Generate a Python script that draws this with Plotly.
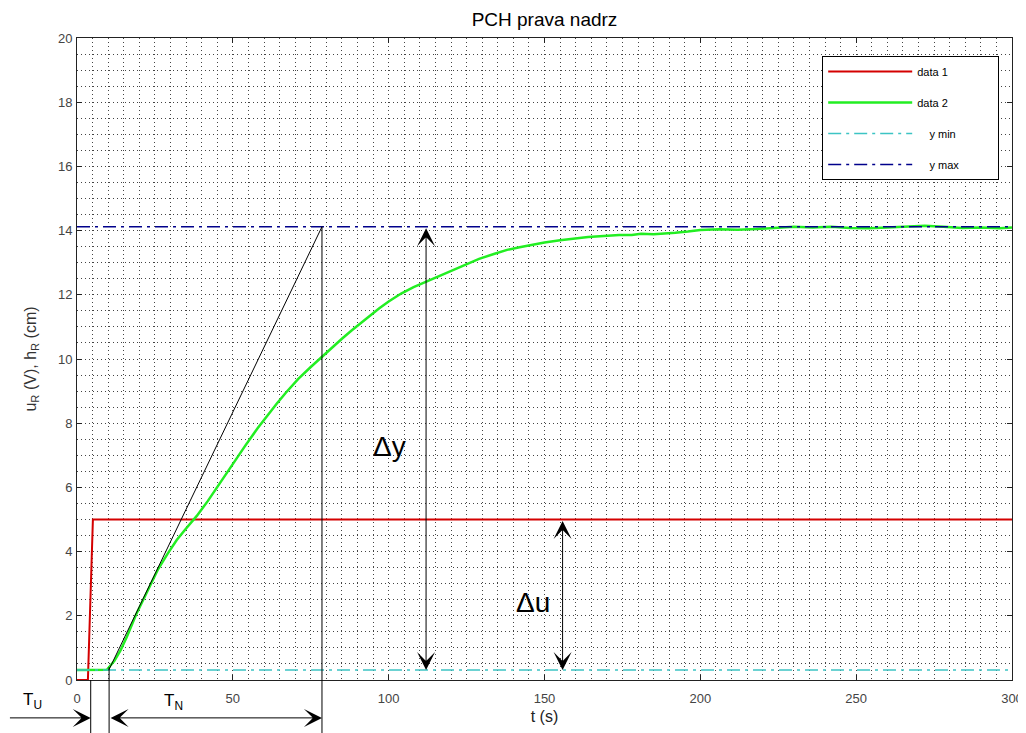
import plotly.graph_objects as go

# ---------------- data ----------------
title_text = "PCH prava nadrz"
x_ticks = [0, 50, 100, 150, 200, 250, 300]
y_ticks = [0, 2, 4, 6, 8, 10, 12, 14, 16, 18, 20]

# data 1: input step u_R
u_t = [0, 3.5, 5.1, 300]
u_v = [0, 0, 5.0, 5.0]

# data 2: level response h_R
h_t = [0, 5, 9.6, 12, 14, 16, 19, 22, 26, 29, 32, 35, 38.5, 42, 45, 48, 51, 54, 58, 61,
       64, 67, 71, 75, 78.6, 82, 85, 88, 91, 94, 97, 100, 104, 108, 112, 116, 121, 125,
       129, 134, 138, 142, 146, 150, 155, 159, 164, 169, 174, 178, 181, 185, 189, 192,
       196, 200, 206, 212, 218, 224, 230, 236, 242, 248, 254, 260, 266, 272, 278, 284,
       290, 296, 300]
h_v = [0.31, 0.31, 0.32, 0.6, 0.93, 1.35, 2.05, 2.65, 3.45, 3.92, 4.36, 4.72, 5.12, 5.58,
       6.02, 6.45, 6.88, 7.3, 7.85, 8.23, 8.6, 8.95, 9.38, 9.75, 10.07, 10.38, 10.63, 10.88,
       11.12, 11.36, 11.58, 11.79, 12.04, 12.24, 12.41, 12.58, 12.78, 12.95, 13.12, 13.28,
       13.4, 13.48, 13.56, 13.63, 13.7, 13.75, 13.8, 13.83, 13.86, 13.86, 13.9, 13.89,
       13.91, 13.93, 13.97, 14.02, 14.04, 14.03, 14.05, 14.09, 14.12, 14.1, 14.12, 14.08,
       14.07, 14.1, 14.13, 14.15, 14.12, 14.08, 14.1, 14.07, 14.1]

y_min = 0.31
y_max = 14.12
lim_t = [0, 300]

# tangent construction
tan_t = [10.2, 78.6]
tan_v = [0.31, 14.12]
t_u = 4.4          # end of dead time T_U
t_n_start = 10.3   # start of T_N
t_n_end = 78.6     # end of T_N
dy_t = 112         # position of delta-y arrow
du_t = 155.8       # position of delta-u arrow

X_RANGE = [0, 300]
Y_RANGE = [0, 20]

# ---------------- figure ----------------
fig = go.Figure()

NB = "\u00a0"
fig.add_trace(go.Scatter(x=u_t, y=u_v, mode="lines", name="data 1",
                         line=dict(color="#d40000", width=2), legendgroup="a"))
fig.add_trace(go.Scatter(x=h_t, y=h_v, mode="lines", name="data 2",
                         line=dict(color="#22ee22", width=2.5), legendgroup="b"))
fig.add_trace(go.Scatter(x=lim_t, y=[y_min, y_min], mode="lines",
                         name=NB * 4 + "y min" + NB * 12,
                         line=dict(color="#3cc4c4", width=1.5, dash="13px,5px,3px,5px"),
                         legendgroup="c"))
fig.add_trace(go.Scatter(x=lim_t, y=[y_max, y_max], mode="lines",
                         name=NB * 4 + "y max",
                         line=dict(color="#00008b", width=1.5, dash="13px,5px,3px,5px"),
                         legendgroup="d"))
fig.add_trace(go.Scatter(x=tan_t, y=tan_v, mode="lines", showlegend=False,
                         line=dict(color="black", width=1)))


def yfrac(v):
    return (v - Y_RANGE[0]) / (Y_RANGE[1] - Y_RANGE[0])


bottom = -0.0826
shapes = [
    dict(type="line", xref="x", yref="paper", x0=t_n_end, x1=t_n_end,
         y0=bottom, y1=yfrac(y_max), line=dict(color="black", width=1)),
    dict(type="line", xref="x", yref="paper", x0=t_u, x1=t_u,
         y0=bottom, y1=yfrac(0), line=dict(color="black", width=1)),
    dict(type="line", xref="x", yref="paper", x0=t_n_start, x1=t_n_start,
         y0=bottom, y1=yfrac(0.4), line=dict(color="black", width=1)),
]

arrow_y = -0.059
ARR = dict(showarrow=True, arrowhead=3, arrowsize=3, arrowwidth=1, arrowcolor="black")
annotations = [
    # delta y double arrow
    dict(x=dy_t, y=y_min, ax=dy_t, ay=y_max, xref="x", yref="y", axref="x", ayref="y",
         text="", startarrowhead=3, arrowside="end+start", startarrowsize=3, **ARR),
    # delta u double arrow
    dict(x=du_t, y=y_min, ax=du_t, ay=5.0, xref="x", yref="y", axref="x", ayref="y",
         text="", startarrowhead=3, arrowside="end+start", startarrowsize=3, **ARR),
    # T_U arrow
    dict(x=t_u, y=arrow_y, ax=-22, ay=0, xref="x", yref="paper", axref="x", ayref="pixel",
         text="", **ARR),
    # T_N double arrow
    dict(x=t_n_end, y=arrow_y, ax=t_n_start, ay=0, xref="x", yref="paper", axref="x",
         ayref="pixel", text="", startarrowhead=3, arrowside="end+start",
         startarrowsize=3, **ARR),
    dict(x=100.4, y=7.26, xref="x", yref="y", text="\u0394y", showarrow=False,
         font=dict(family="Liberation Sans", size=28, color="black")),
    dict(x=146.3, y=2.4, xref="x", yref="y", text="\u0394u", showarrow=False,
         font=dict(family="Liberation Sans", size=28, color="black")),
    dict(x=-0.06, y=-0.053, xref="paper", yref="paper", text="T<sub>U</sub>",
         showarrow=False, font=dict(family="Liberation Sans", size=17, color="black")),
    dict(x=31.0, y=-0.055, xref="x", yref="paper", text="T<sub>N</sub>",
         showarrow=False, font=dict(family="Liberation Sans", size=17, color="black")),
]

grid_col = "#444444"
grid_dash = "1px,3px"
# the page body keeps its default 8px margin, so the figure is sized to fill the rest
fig.update_layout(
    width=1018, height=725,
    margin=dict(l=69, r=14, t=30, b=53),
    paper_bgcolor="white", plot_bgcolor="white",
    font=dict(family="Liberation Sans", size=12, color="#333333"),
    title=dict(text=title_text, x=0.5, xref="paper", y=0.985, yanchor="middle",
               font=dict(family="Liberation Sans", size=19, color="black")),
    showlegend=True,
    legend=dict(x=0.797, y=0.972, xanchor="left", yanchor="top",
                bgcolor="white", bordercolor="black", borderwidth=1,
                font=dict(family="Liberation Sans", size=11, color="black"),
                tracegroupgap=12, itemwidth=84),
    shapes=shapes,
    annotations=annotations,
)

fig.update_xaxes(
    range=X_RANGE, tickvals=x_ticks, ticktext=[str(v) for v in x_ticks],
    ticks="inside", ticklen=5, tickcolor="#222222", showline=True, linecolor="#222222",
    linewidth=1, mirror="allticks", zeroline=False, automargin=False,
    ticklabelstandoff=6,
    showgrid=True, gridcolor=grid_col, griddash=grid_dash, gridwidth=1,
    minor=dict(dtick=5, tick0=0, showgrid=True, gridcolor=grid_col, griddash=grid_dash,
               gridwidth=1, ticks=""),
    title=dict(text="t (s)", standoff=6, font=dict(size=16, color="#222222")),
    tickfont=dict(size=13, color="#444444"),
)
fig.update_yaxes(
    range=Y_RANGE, tickvals=y_ticks, ticktext=[str(v) for v in y_ticks],
    ticks="inside", ticklen=5, tickcolor="#222222", showline=True, linecolor="#222222",
    linewidth=1, mirror="allticks", zeroline=False, automargin=False,
    ticklabelstandoff=1,
    showgrid=True, gridcolor=grid_col, griddash=grid_dash, gridwidth=1,
    minor=dict(dtick=0.5, tick0=0, showgrid=True, gridcolor=grid_col, griddash=grid_dash,
               gridwidth=1, ticks=""),
    title=dict(text="u<sub>R</sub> (V), h<sub>R</sub> (cm)", standoff=17,
               font=dict(size=16, color="#333333")),
    tickfont=dict(size=13, color="#444444"),
)

fig.write_html("out.html")
